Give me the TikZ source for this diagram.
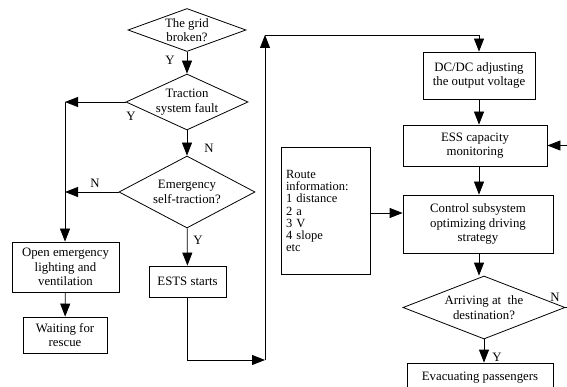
\documentclass[tikz,border=0pt]{standalone}
\usepackage{fontspec}
\setmainfont{Liberation Serif}
\usetikzlibrary{shapes.geometric,arrows.meta}

\begin{document}
\begin{tikzpicture}[x=1pt, y=-1pt, font=\fontsize{12.8}{14.5}\selectfont, line width=.8pt, >={Triangle[length=13pt,width=10pt]},
    box/.style={draw, align=center, inner sep=0pt},
    dec/.style={draw, diamond, inner sep=0pt, label={[align=center]center:#1}},
    every label/.style={inner sep=0pt}]
    \clip (0,0) rectangle (567,387);
    % left column
    \node[dec={The grid\\broken?}, minimum width=118, minimum height=43] (grid) at (187,30) {};
    \node[dec={Traction\\system fault}, minimum width=122, minimum height=56] (trac) at (187,102) {};
    \node[dec={Emergency\\self-traction?}, minimum width=136, minimum height=72] (emer) at (187,192) {};
    \node[box, minimum width=77, minimum height=31] (ests) at (187.5,281.5) {ESTS starts};
    \node[box, minimum width=107, minimum height=50] (open) at (65.5,267) {Open emergency\\lighting and\\ventilation};
    \node[box, minimum width=84, minimum height=36] (wait) at (65,335) {Waiting for\\rescue};
    % right column
    \node[box, minimum width=112, minimum height=47] (dcdc) at (479,75.5) {DC/DC adjusting\\the output voltage};
    \node[box, minimum width=144, minimum height=41] (ess) at (475,145.5) {ESS capacity\\monitoring};
    \node[box, minimum width=150, minimum height=58] (ctrl) at (478,224) {Control subsystem\\optimizing driving\\strategy};
    \node[box, minimum width=89, minimum height=127, text width=80, align=left, font=\fontsize{12.5}{12.3}\selectfont] (route) at (326,211) {Route\\information:\\1 distance\\2 a\\3 V\\4 slope\\etc};
    \node[dec={Arriving at~ the\\destination?}, minimum width=162, minimum height=63] (arrive) at (484,307.5) {};
    \node[box, minimum width=146, minimum height=30] (evac) at (480,378) {Evacuating passengers};
    % connectors
    \coordinate (lft) at (65,102);
    \coordinate (c1) at (265,360);
    \coordinate (c2) at (265,35);
    \coordinate (rgt) at (585,307.5);
    \draw[->] (grid) -- (trac);
    \draw[->] (trac) -- (emer);
    \draw[->] (emer) -- (ests);
    \draw[->] (trac.west) -- (lft);
    \draw[->] (emer.west) -- (emer.west -| lft);
    \draw[->] (lft) -- (lft |- open.north);
    \draw[->] (open) -- (wait);
    \draw[->] (ests.south) |- (c1);
    \draw[->] (c1) -- (c2);
    \draw[->] (c2) -| (dcdc.north);
    \draw[->] (dcdc.south) -- (dcdc.south |- ess.north);
    \draw[->] (dcdc.south |- ess.south) -- (dcdc.south |- ctrl.north);
    \draw[->] (route.east |- 0,213) -- (ctrl.west |- 0,213);
    \draw[->] (dcdc.south |- ctrl.south) -- (dcdc.south |- arrive.north);
    \draw[->] (arrive) -- (arrive |- evac.north);
    \draw (arrive.east) -- (rgt);
    \draw[->] (rgt) |- (ess.east);
    % labels
    \node (y1) at (170,60) {Y};
    \node (y2) at (131,116) {Y};
    \node (n1) at (209,148) {N};
    \node (n2) at (95,183) {N};
    \node (y3) at (198,240) {Y};
    \node (n3) at (555,297) {N};
    \node (y4) at (497,357) {Y};
\end{tikzpicture}
\end{document}
